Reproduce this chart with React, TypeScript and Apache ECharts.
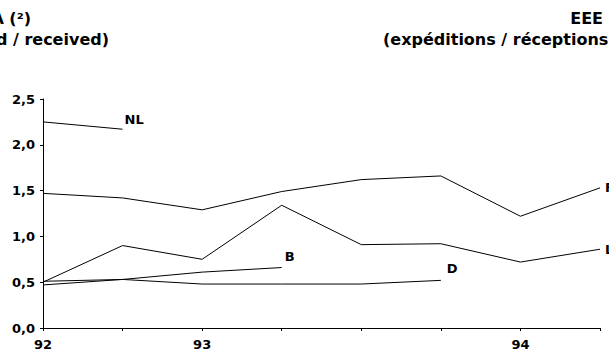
import React, { useEffect, useRef } from "react";
import * as echarts from "echarts";

const categories = ["92", "", "93", "", "", "", "94", ""];
const seriesNames = ["F", "L", "B", "D", "NL"];
const valuesF = [1.47, 1.42, 1.29, 1.49, 1.62, 1.66, 1.22, 1.53];
const valuesL = [0.5, 0.9, 0.75, 1.34, 0.91, 0.92, 0.72, 0.86];
const valuesB = [0.51, 0.53, 0.61, 0.66];
const valuesD = [0.47, 0.53, 0.48, 0.48, 0.48, 0.52];
const valuesNL = [2.25, 2.17];
const yTicks = [0, 0.5, 1, 1.5, 2, 2.5];

const FONT = '"DejaVu Sans", sans-serif';

export default function App() {
  const ref = useRef<HTMLDivElement>(null);
  useEffect(() => {
    if (!ref.current) return;
    const chart = echarts.init(ref.current, undefined, { renderer: "svg" });
    const offsets: Record<string, number[]> = {
      F: [0, 0],
      L: [0, 0],
      B: [-2, -11],
      D: [1, -12],
      NL: [-3, -10],
    };
    const dataMap: Record<string, number[]> = {
      F: valuesF,
      L: valuesL,
      B: valuesB,
      D: valuesD,
      NL: valuesNL,
    };
    const textStyle = {
      font: `bold 16px ${FONT}`,
      fill: "#000",
      verticalAlign: "middle",
    };
    chart.setOption({
      animation: false,
      backgroundColor: "#fff",
      grid: { left: 43, right: 9, top: 99, bottom: 32, containLabel: false },
      xAxis: {
        type: "category",
        data: categories,
        boundaryGap: false,
        axisLine: { lineStyle: { color: "#000", width: 1 } },
        axisTick: { show: true, length: 3, alignWithLabel: true, lineStyle: { color: "#000" } },
        axisLabel: {
          interval: 0,
          fontFamily: FONT,
          fontWeight: "bold",
          fontSize: 13,
          color: "#000",
          margin: 10,
        },
        splitLine: { show: false },
      },
      yAxis: {
        type: "value",
        min: yTicks[0],
        max: yTicks[yTicks.length - 1],
        interval: 0.5,
        axisLine: { show: true, lineStyle: { color: "#000", width: 1 } },
        axisTick: { show: true, length: 3, lineStyle: { color: "#000" } },
        axisLabel: {
          fontFamily: FONT,
          fontWeight: "bold",
          fontSize: 13,
          color: "#000",
          margin: 8,
          formatter: (v: number) => v.toFixed(1).replace(".", ","),
        },
        splitLine: { show: false },
      },
      series: seriesNames.map((n) => ({
        name: n,
        type: "line",
        data: dataMap[n],
        symbol: "none",
        lineStyle: { color: "#000", width: 1 },
        itemStyle: { color: "#000" },
        endLabel: {
          show: true,
          formatter: n,
          distance: 5,
          offset: offsets[n],
          fontFamily: FONT,
          fontWeight: "bold",
          fontSize: 13,
          color: "#000",
        },
        labelLayout: { hideOverlap: false },
        z: 3,
      })),
      graphic: [
        { type: "text", x: 31, y: 18, style: { ...textStyle, text: "EEA (²)", align: "right" } },
        { type: "text", x: 109, y: 39, style: { ...textStyle, text: "(dispatched / received)", align: "right" } },
        { type: "text", x: 603, y: 18, style: { ...textStyle, text: "EEE", align: "right" } },
        { type: "text", x: 383, y: 39, style: { ...textStyle, text: "(expéditions / réceptions)", align: "left" } },
      ],
    });
    return () => chart.dispose();
  }, []);
  return <div ref={ref} style={{ width: 609, height: 360, position: "absolute", left: 0, top: 0 }} />;
}
